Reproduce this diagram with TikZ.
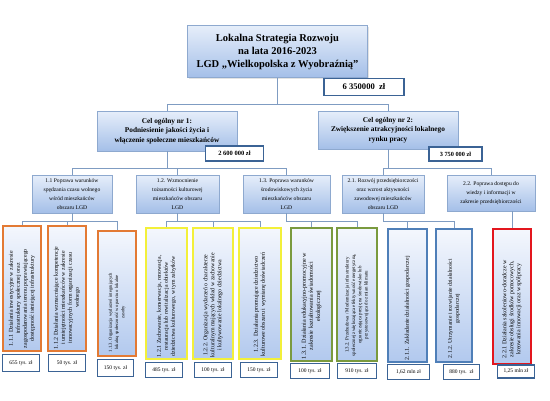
\documentclass[tikz,border=0pt]{standalone}
\usepackage{fontspec}
\setmainfont{Liberation Serif}
\usetikzlibrary{shadows}
\definecolor{bluetop}{HTML}{E6EEFA}
\definecolor{bluebot}{HTML}{A4BFE8}
\definecolor{bluebrd}{HTML}{8EA9CF}
\definecolor{conncol}{HTML}{7F9CC2}
\definecolor{amtbrd}{HTML}{3B6395}
\definecolor{cOrange}{HTML}{E37A34}
\definecolor{cYellow}{HTML}{F3F03A}
\definecolor{cGreen}{HTML}{7A9A3E}
\definecolor{cBlue}{HTML}{4F7FB8}
\definecolor{cRed}{HTML}{E3161E}
\definecolor{lowtop}{HTML}{F4F7FD}
\definecolor{lowbot}{HTML}{B2C9EE}
\begin{document}
\begin{tikzpicture}[x=1pt,y=-1pt,
  bluebox/.style={draw=bluebrd, line width=0.6pt, top color=bluetop, bottom color=bluebot,
    inner sep=1pt, align=center,
    drop shadow={opacity=0.22, shadow xshift=1.2pt, shadow yshift=-1.2pt}},
  l3box/.style={draw=#1, line width=2.4pt, top color=lowtop, bottom color=lowbot, inner sep=0pt},
  l3txt/.style={rotate=90, anchor=west, align=center, inner sep=0pt},
  amt/.style={draw=amtbrd, line width=1.3pt, fill=white, inner sep=0pt},
  amtsm/.style={amt, line width=1.1pt, font=\fontsize{5.5}{6}\selectfont},
  conn/.style={draw=conncol, line width=0.6pt},
  lvtwo/.style={bluebox, minimum height=38pt, font=\fontsize{5.6}{9}\selectfont}
]
\useasboundingbox (0,0) rectangle (550,400);
\fill[white] (0,0) rectangle (550,400);

% bar levels
\coordinate (bar0) at (0,104);
\coordinate (bar1) at (0,168);
\coordinate (bar2) at (0,221);

% top
\node[bluebox, minimum width=180pt, minimum height=52pt,
  font=\fontsize{10.5}{13}\selectfont\bfseries] (top) at (277.5,51.5)
  {Lokalna Strategia Rozwoju\\na lata 2016-2023\\LGD „Wielkopolska z Wyobraźnią”};

% goals
\node[bluebox, minimum width=140pt, minimum height=40pt,
  font=\fontsize{7.3}{9.5}\selectfont\bfseries] (g1) at (167,131)
  {Cel ogólny nr 1:\\Podniesienie jakości życia i\\włączenie społeczne mieszkańców};
\node[bluebox, minimum width=140pt, minimum height=38pt,
  font=\fontsize{7.3}{9.5}\selectfont\bfseries] (g2) at (388,130)
  {Cel ogólny nr 2:\\Zwiększenie atrakcyjności lokalnego\\rynku pracy};

% level 2
\node[lvtwo, minimum width=80pt] (l11) at (72,194)
  {1.1 Poprawa warunków\\spędzania czasu wolnego\\wśród mieszkańców\\obszaru LGD};
\node[lvtwo, minimum width=83pt] (l12) at (177.5,194)
  {1.2. Wzmocnienie\\tożsamości kulturowej\\mieszkańców obszaru\\LGD};
\node[lvtwo, minimum width=87pt] (l13) at (286.5,194)
  {1.3. Poprawa warunków\\środowiskowych życia\\mieszkańców obszaru\\LGD};
\node[lvtwo, minimum width=82pt] (l21) at (383,194)
  {2.1. Rozwój przedsiębiorczości\\oraz wzrost aktywności\\zawodowej mieszkańców\\obszaru LGD};
\node[lvtwo, minimum width=88pt, minimum height=36pt] (l22) at (491,193)
  {2.2. Poprawa dostępu do\\wiedzy i informacji w\\zakresie przedsiębiorczości};

% level 3 boxes
\node[l3box=cOrange, minimum width=38pt, minimum height=125pt] (b111) at (22,288.5) {};
\node[l3box=cOrange, minimum width=38pt, minimum height=125pt] (b112) at (67,288.5) {};
\node[l3box=cOrange, minimum width=38pt, minimum height=125pt] (b113) at (117,293.5) {};
\node[l3box=cYellow, minimum width=41pt, minimum height=131pt] (b121) at (166.5,293.5) {};
\node[l3box=cYellow, minimum width=40pt, minimum height=131pt] (b122) at (213,293.5) {};
\node[l3box=cYellow, minimum width=42pt, minimum height=131pt] (b123) at (260,293.5) {};
\node[l3box=cGreen, minimum width=41pt, minimum height=133pt] (b131) at (311.5,294.5) {};
\node[l3box=cGreen, minimum width=40pt, minimum height=133pt] (b132) at (357,294.5) {};
\node[l3box=cBlue, minimum width=39pt, minimum height=133pt] (b211) at (407.5,295.5) {};
\node[l3box=cBlue, minimum width=36pt, minimum height=133pt] (b212) at (454,295.5) {};
\node[l3box=cRed, minimum width=38pt, minimum height=135pt] (b221) at (512,296.5) {};

% level 3 texts
\node[l3txt, font=\fontsize{5.9}{7}\selectfont] (t111) at ([yshift=4pt]b111.south)
  {1.1.1 Działania inwestycyjne w zakresie\\infrastruktury społecznej oraz\\zagospodarowania terenu poprawiającego\\dostępność istniejącej infrastruktury};
\node[l3txt, font=\fontsize{5.9}{7}\selectfont] (t112) at ([yshift=3pt]b112.south)
  {1.1.2 Działania wzmacniające kompetencje\\i umiejętności mieszkańców w zakresie\\innowacyjnych form organizacji czasu\\wolnego};
\node[l3txt, font=\fontsize{4.6}{6.2}\selectfont] (t113) at ([yshift=5pt]b113.south)
  {1.1.3. Organizacja wydarzeń integrujących\\lokalną społeczność w oparciu o lokalne\\zasoby};
\node[l3txt, font=\fontsize{5.8}{7}\selectfont] (t121) at ([yshift=3pt]b121.south)
  {1.2.1 Zachowanie, konserwacja, renowacja,\\restauracja lub rewitalizacja obiektów\\dziedzictwa kulturowego, w tym zabytków};
\node[l3txt, font=\fontsize{5.9}{7}\selectfont] (t122) at ([yshift=3pt]b122.south)
  {1.2.2. Organizacja wydarzeń o charakterze\\kulturalnym mających wkład w zachowanie\\i kultywowanie lokalnego dziedzictwa};
\node[l3txt, font=\fontsize{6}{7}\selectfont] (t123) at ([yshift=4pt]b123.south)
  {1.2.3. Działania promujące dziedzictwo\\kulturowe obszaru i wymianę doświadczeń};
\node[l3txt, font=\fontsize{6.1}{7.2}\selectfont] (t131) at ([yshift=3pt]b131.south)
  {1.3.1. Działania edukacyjno-promocyjne w\\zakresie kształtowania świadomości\\ekologicznej};
\node[l3txt, font=\fontsize{4.9}{6.3}\selectfont] (t132) at ([yshift=6pt]b132.south)
  {1.3.2. Przebudowa / Modernizacja infrastruktury\\społecznej zwiększająca efektywność energetyczną,\\ograniczająca presję na środowisko lub\\przystosowująca do zmian klimatu};
\node[l3txt, font=\fontsize{5.9}{7}\selectfont] (t211) at ([yshift=3pt]b211.south)
  {2.1.1. Zakładanie działalności gospodarczej};
\node[l3txt, font=\fontsize{5.7}{7}\selectfont] (t212) at ([yshift=5pt]b212.south)
  {2.1.2. Utrzymanie i rozwijanie działalności\\gospodarczej};
\node[l3txt, font=\fontsize{6}{7}\selectfont] (t221) at ([yshift=7pt]b221.south)
  {2.2.1 Działania szkoleniowo-doradcze w\\zakresie obsługi środków pomocowych,\\kreowania innowacji oraz współpracy};

% connectors
\draw[conn] (top.south) -- (top.south |- bar0);
\draw[conn] (g1.north) |- (g2.north |- bar0) -- (g2.north);
\draw[conn] (g1.south) -- (g1.south |- bar1);
\draw[conn] (l11.north) |- (l13.north |- bar1) -- (l13.north);
\draw[conn] (l12.north) -- (l12.north |- bar1);
\draw[conn] (g2.south) -- (g2.south |- bar1);
\draw[conn] (l21.north) |- (l22.north |- bar1) -- (l22.north);

\draw[conn] (l11.south) -- (l11.south |- bar2);
\draw[conn] (b111.north) |- (b113.north |- bar2) -- (b113.north);
\draw[conn] (b112.north) -- (b112.north |- bar2);
\draw[conn] (l12.south) -- (l12.south |- bar2);
\draw[conn] (b121.north) |- (b123.north |- bar2) -- (b123.north);
\draw[conn] (b122.north) -- (b122.north |- bar2);
\draw[conn] (l13.south) |- (b132.north |- bar2) -- (b132.north);
\draw[conn] (b131.north) -- (b131.north |- bar2);
\draw[conn] (l21.south) |- (b212.north |- bar2) -- (b212.north);
\draw[conn] (b211.north) -- (b211.north |- bar2);
\draw[conn] (b221.north) -- (b221.north |- l22.south);

% amounts
\node[amt, minimum width=80pt, minimum height=17pt, font=\fontsize{8.6}{10}\selectfont\bfseries] (a0) at (364,87) {6 350000\ \ zł};
\node[amt, minimum width=58pt, minimum height=15pt, font=\fontsize{6.5}{8}\selectfont\bfseries] (a1) at (234.5,153.5) {2 600 000 zł};
\node[amt, minimum width=53pt, minimum height=14pt, font=\fontsize{6.3}{8}\selectfont\bfseries] (a2) at (455.5,154) {3 750 000 zł};

\node[amtsm, minimum width=37pt, minimum height=17pt] (a111) at (21,363) {655 tys. zł};
\node[amtsm, minimum width=37pt, minimum height=17pt] (a112) at (67,363) {50 tys. zł};
\node[amtsm, minimum width=36pt, minimum height=17pt] (a113) at (115.5,368) {150 tys. zł};
\node[amtsm, minimum width=37pt, minimum height=15pt] (a121) at (164,370) {485 tys. zł};
\node[amtsm, minimum width=37pt, minimum height=15pt] (a122) at (213,370) {100 tys. zł};
\node[amtsm, minimum width=37pt, minimum height=15pt] (a123) at (259,370) {150 tys. zł};
\node[amtsm, minimum width=39pt, minimum height=15pt] (a131) at (310,371) {100 tys. zł};
\node[amtsm, minimum width=39pt, minimum height=15pt] (a132) at (357,371) {910 tys. zł};
\node[amtsm, minimum width=42pt, minimum height=15pt] (a211) at (408.5,372) {1,62 mln zł};
\node[amtsm, minimum width=36pt, minimum height=15pt] (a212) at (461.5,372) {880 tys.\ \ zł};
\node[amtsm, minimum width=37pt, minimum height=13pt] (a221) at (516,371.5) {1,25 mln zł};
\end{tikzpicture}
\end{document}
